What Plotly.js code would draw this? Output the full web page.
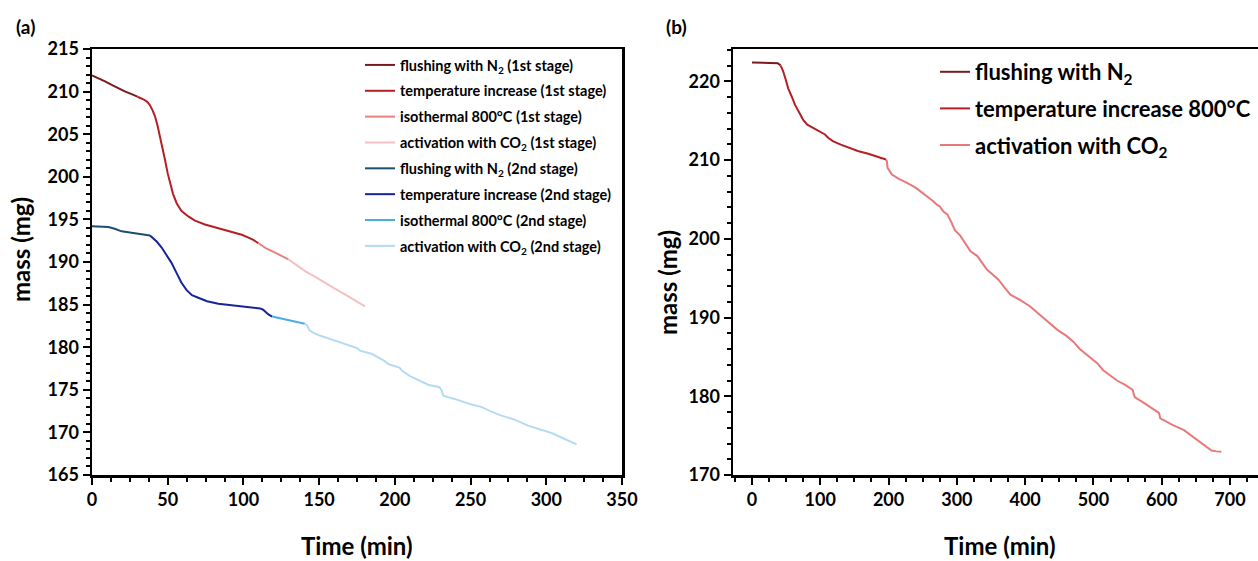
<!DOCTYPE html>
<html>
<head>
<meta charset="utf-8">
<script src="https://cdn.plot.ly/plotly-3.0.1.min.js"></script>
<style>html,body{margin:0;padding:0;background:#fff;}#chart{width:1258px;height:561px;}</style>
</head>
<body>
<div id="chart"></div>
<script>
// ---------- Panel (a) : 1st stage ----------
const a1FlushT = [0, 4, 8.6, 13, 17.4, 22, 26.2, 30];
const a1FlushM = [211.9, 211.6, 211.2, 210.8, 210.4, 210.0, 209.7, 209.4];
const a1TempT = [30, 33.9, 36.5, 38.3, 40, 41.6, 43.3, 44.9, 46.5, 48.2, 50, 51.5, 53.5, 55.9, 59, 63.6, 68, 74.6, 81, 87.8, 93, 98.9, 103, 106.5, 109.9];
const a1TempM = [209.4, 209.1, 208.8, 208.4, 207.8, 207.1, 206.0, 204.8, 203.4, 202.0, 200.4, 199.3, 198.0, 196.9, 196.0, 195.35, 194.85, 194.4, 194.1, 193.8, 193.55, 193.2, 192.9, 192.6, 192.2];
const a1IsoT = [109.9, 115, 121, 125, 129.7];
const a1IsoM = [192.2, 191.6, 191.1, 190.7, 190.3];
const a1ActT = [129.7, 135, 141, 148, 154, 160, 167, 174, 180.3];
const a1ActM = [190.3, 189.6, 188.9, 188.2, 187.5, 186.9, 186.2, 185.5, 184.8];

// ---------- Panel (a) : 2nd stage ----------
const a2FlushT = [0, 5, 10.8, 15, 19.6, 25, 30.6, 35, 38.3];
const a2FlushM = [194.2, 194.15, 194.1, 193.9, 193.6, 193.45, 193.3, 193.2, 193.1];
const a2TempT = [38.3, 40.5, 42.7, 46, 49.3, 52.5, 55.9, 59, 62.5, 66, 70.2, 76, 83.4, 91, 98.9, 105, 111, 113, 114.3, 116.5, 119];
const a2TempM = [193.1, 192.8, 192.4, 191.7, 190.85, 189.9, 188.7, 187.6, 186.7, 186.1, 185.8, 185.4, 185.1, 184.95, 184.8, 184.7, 184.55, 184.4, 184.15, 183.85, 183.6];
const a2IsoT = [119, 124, 128, 133, 137, 140.5];
const a2IsoM = [183.6, 183.4, 183.25, 183.05, 182.9, 182.75];
const a2ActT = [140.5, 142, 143.5, 146, 150, 155, 162, 170, 175, 177, 185, 193, 196, 203, 205, 210, 217, 222, 229.5, 231, 232, 240, 250, 257, 263, 270, 279, 288, 295, 304, 310, 316, 320];
const a2ActM = [182.75, 182.6, 182.0, 181.7, 181.4, 181.1, 180.7, 180.2, 179.9, 179.6, 179.2, 178.4, 178.0, 177.6, 177.2, 176.6, 176.0, 175.6, 175.3, 174.9, 174.3, 173.9, 173.3, 173.0, 172.5, 172.0, 171.5, 170.8, 170.4, 169.9, 169.4, 168.9, 168.6];

// ---------- Panel (b) ----------
const bFlushT = [0, 10, 20, 30, 37.8, 42];
const bFlushM = [222.4, 222.38, 222.35, 222.32, 222.3, 222.0];
const bTempT = [42, 45.5, 49.3, 53, 58, 63, 69.4, 75, 81, 90, 98.2, 106.9, 112, 118.4, 130, 141.6, 155, 170.3, 185, 196.2];
const bTempM = [222.0, 221.3, 220.25, 219.1, 218.1, 217.0, 216.0, 215.1, 214.5, 214.1, 213.7, 213.25, 212.8, 212.4, 211.95, 211.55, 211.15, 210.8, 210.4, 210.06];
const bActT = [196.2, 197.5, 198.5, 205, 215, 225, 239.6, 255, 265, 271.2, 275, 280, 286, 292, 297, 305, 314.5, 320, 330, 336, 344, 352, 361, 370, 378.5, 393, 407.4, 418, 430.5, 440, 447.8, 460, 470.9, 480, 488.2, 497, 505.5, 514.3, 525, 534.5, 547, 557.5, 559, 560.4, 575, 592, 596, 597.9, 615, 632.6, 650, 665, 672.9, 680, 687.4];
const bActM = [210.06, 209.9, 209.0, 208.15, 207.6, 207.2, 206.5, 205.5, 204.8, 204.3, 204.1, 203.5, 203.1, 202.1, 201.1, 200.4, 199.2, 198.4, 197.8, 197.1, 196.1, 195.5, 194.8, 193.8, 192.9, 192.2, 191.4, 190.6, 189.7, 188.9, 188.4, 187.7, 186.9, 186.0, 185.4, 184.7, 184.2, 183.3, 182.6, 182.0, 181.4, 180.8, 180.3, 179.9, 179.1, 178.2, 177.9, 177.2, 176.4, 175.7, 174.6, 173.6, 173.1, 173.0, 172.95];

// ---------- Labels ----------
const aNames = [
  'flushing with N<sub>2</sub> (1st stage)',
  'temperature increase (1st stage)',
  'isothermal 800°C (1st stage)',
  'activation with CO<sub>2</sub> (1st stage)',
  'flushing with N<sub>2</sub> (2nd stage)',
  'temperature increase (2nd stage)',
  'isothermal 800°C (2nd stage)',
  'activation with CO<sub>2</sub> (2nd stage)'
];
const bNames = ['flushing with N<sub>2</sub>', 'temperature increase 800°C', 'activation with CO<sub>2</sub>'];
const aColors = ['#7b1a1e', '#b51f24', '#e8807f', '#f5c0c1', '#1b4f6e', '#17239a', '#4aaee3', '#b3dcf2'];
const bColors = ['#7b1a1e', '#b51f24', '#e8797a'];

const aX = [a1FlushT, a1TempT, a1IsoT, a1ActT, a2FlushT, a2TempT, a2IsoT, a2ActT];
const aY = [a1FlushM, a1TempM, a1IsoM, a1ActM, a2FlushM, a2TempM, a2IsoM, a2ActM];
const bX = [bFlushT, bTempT, bActT];
const bY = [bFlushM, bTempM, bActM];

const W = 1258, H = 561;
const FONT = 'Lato, "Open Sans", sans-serif';

const traces = [];
aX.forEach((xs, i) => {
  traces.push({
    x: xs, y: aY[i], type: 'scatter', mode: 'lines', name: aNames[i],
    line: {color: aColors[i], width: 2}, xaxis: 'x', yaxis: 'y',
    legend: 'legend', legendgroup: 'a' + i
  });
});
bX.forEach((xs, i) => {
  traces.push({
    x: xs, y: bY[i], type: 'scatter', mode: 'lines', name: bNames[i],
    line: {color: bColors[i], width: 2}, xaxis: 'x2', yaxis: 'y2',
    legend: 'legend2', legendgroup: 'b' + i
  });
});

const tickFont = {family: FONT, size: 18, color: '#000', weight: 'bold'};
const axisCommon = {
  showgrid: false, zeroline: false, showline: true, linecolor: '#000', linewidth: 2.5,
  ticks: 'outside', ticklen: 7, tickwidth: 2, tickcolor: '#000', tickfont: tickFont,
  fixedrange: true
};
const yDom = [(H - 475) / H, (H - 49) / H];

const layout = {
  width: W, height: H, autosize: false,
  margin: {l: 0, r: 0, t: 0, b: 0},
  paper_bgcolor: '#fff', plot_bgcolor: '#fff',
  font: {family: FONT, color: '#000'},
  showlegend: true,
  xaxis: Object.assign({}, axisCommon, {
    domain: [92 / W, 622 / W], range: [0, 350], tick0: 0, dtick: 50, mirror: true,
    minor: {dtick: 12.5, ticks: 'outside', ticklen: 4, tickwidth: 2, tickcolor: '#000'},
    anchor: 'y'
  }),
  yaxis: Object.assign({}, axisCommon, {
    domain: yDom, range: [165, 215], tick0: 165, dtick: 5, mirror: true,
    minor: {dtick: 1, ticks: 'outside', ticklen: 4, tickwidth: 2, tickcolor: '#000'},
    anchor: 'x'
  }),
  xaxis2: Object.assign({}, axisCommon, {
    domain: [733 / W, 1], range: [-27.8, 741], tick0: 0, dtick: 100, mirror: true,
    minor: {dtick: 25, ticks: 'outside', ticklen: 4, tickwidth: 2, tickcolor: '#000'},
    anchor: 'y2'
  }),
  yaxis2: Object.assign({}, axisCommon, {
    domain: yDom, range: [170, 224.1], tick0: 170, dtick: 10, mirror: false,
    minor: {dtick: 2, ticks: 'outside', ticklen: 4, tickwidth: 2, tickcolor: '#000'},
    anchor: 'x2'
  }),
  legend: {
    x: 360 / W, y: 1 - 49 / H, xanchor: 'left', yanchor: 'top',
    bgcolor: 'rgba(0,0,0,0)', borderwidth: 0,
    font: {family: FONT, size: 14.5, color: '#000', weight: 'bold'},
    traceorder: 'grouped', tracegroupgap: 4
  },
  legend2: {
    x: 935 / W, y: 1 - 51 / H, xanchor: 'left', yanchor: 'top',
    bgcolor: 'rgba(0,0,0,0)', borderwidth: 0,
    font: {family: FONT, size: 22, color: '#000', weight: 'bold'},
    traceorder: 'grouped', tracegroupgap: 5
  },
  annotations: [
    {text: '(a)', x: 26 / W, y: 1 - 26 / H, xref: 'paper', yref: 'paper', xanchor: 'center', yanchor: 'middle', showarrow: false,
     font: {family: FONT, size: 19, weight: 'bold', color: '#000'}},
    {text: '(b)', x: 676 / W, y: 1 - 26 / H, xref: 'paper', yref: 'paper', xanchor: 'center', yanchor: 'middle', showarrow: false,
     font: {family: FONT, size: 19, weight: 'bold', color: '#000'}},
    {text: 'Time (min)', x: 356.5 / W, y: 1 - 545 / H, xref: 'paper', yref: 'paper', xanchor: 'center', yanchor: 'middle', showarrow: false,
     font: {family: FONT, size: 24, weight: 'bold', color: '#000'}},
    {text: 'Time (min)', x: 1000 / W, y: 1 - 545 / H, xref: 'paper', yref: 'paper', xanchor: 'center', yanchor: 'middle', showarrow: false,
     font: {family: FONT, size: 24, weight: 'bold', color: '#000'}},
    {text: 'mass (mg)', x: 21 / W, y: 1 - 250 / H, xref: 'paper', yref: 'paper', xanchor: 'center', yanchor: 'middle', showarrow: false, textangle: -90,
     font: {family: FONT, size: 24, weight: 'bold', color: '#000'}},
    {text: 'mass (mg)', x: 667 / W, y: 1 - 282 / H, xref: 'paper', yref: 'paper', xanchor: 'center', yanchor: 'middle', showarrow: false, textangle: -90,
     font: {family: FONT, size: 24, weight: 'bold', color: '#000'}}
  ]
};

Plotly.newPlot('chart', traces, layout, {staticPlot: true, displayModeBar: false});
</script>
</body>
</html>
